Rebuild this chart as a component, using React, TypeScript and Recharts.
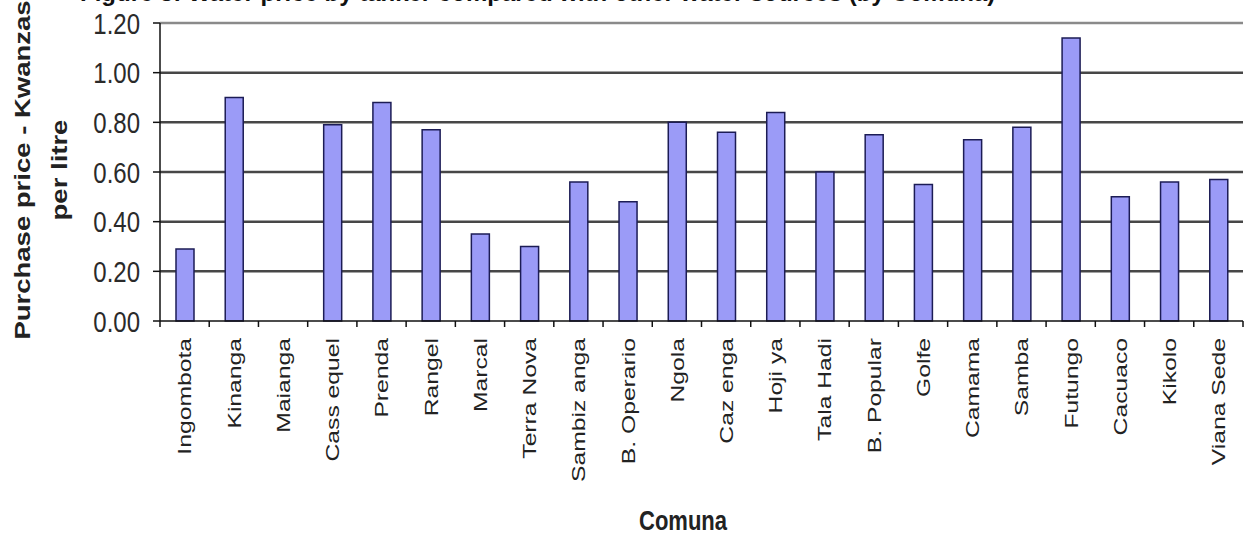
import { Bar, BarChart, CartesianGrid, ReferenceLine, XAxis, YAxis } from 'recharts'

const comunas = [
  'Ingombota', 'Kinanga', 'Maianga', 'Cass equel', 'Prenda', 'Rangel', 'Marcal', 'Terra Nova',
  'Sambiz anga', 'B. Operario', 'Ngola', 'Caz enga', 'Hoji ya', 'Tala Hadi', 'B. Popular', 'Golfe',
  'Camama', 'Samba', 'Futungo', 'Cacuaco', 'Kikolo', 'Viana Sede',
]
const prices = [
  0.29, 0.9, 0, 0.79, 0.88, 0.77, 0.35, 0.3, 0.56, 0.48, 0.8, 0.76, 0.84, 0.6, 0.75, 0.55, 0.73,
  0.78, 1.14, 0.5, 0.56, 0.57,
]
const yTicks = [0, 0.2, 0.4, 0.6, 0.8, 1.0, 1.2]

const W = 1248
const H = 535
const plotLeft = 160
const plotRight = 1243
const band = (plotRight - plotLeft) / comunas.length
const font = '"Liberation Sans", Arial, sans-serif'

const data = comunas.map((name, i) => ({ name, price: prices[i] }))

function YTick({ x, y, payload }: any) {
  return (
    <text
      transform={`translate(${x},${y}) scale(1,1.25)`}
      textAnchor="end"
      dy="0.36em"
      fontSize={24}
      fontFamily={font}
      fill="#2a2a2a"
    >
      {payload.value.toFixed(2)}
    </text>
  )
}

function XTick({ x, y, payload, index }: any) {
  const last = index === comunas.length - 1
  return (
    <g>
      <line x1={x - band / 2} x2={x - band / 2} y1={y - 8} y2={y - 2} stroke="#111" strokeWidth={1.5} />
      {last && <line x1={x + band / 2} x2={x + band / 2} y1={y - 8} y2={y - 2} stroke="#111" strokeWidth={1.5} />}
      <text
        transform={`translate(${x},${y + 9}) rotate(-90) scale(1.3,1)`}
        textAnchor="end"
        dy="0.36em"
        fontSize={19}
        fontFamily={font}
        fill="#222"
      >
        {payload.value}
      </text>
    </g>
  )
}

export default function App() {
  return (
    <div style={{ position: 'absolute', left: 0, top: 0, width: W, height: H, background: '#fff' }}>
      <BarChart
        width={W}
        height={H}
        data={data}
        margin={{ top: 23, right: W - plotRight, left: 0, bottom: 0 }}
        barCategoryGap={0}
      >
        <CartesianGrid
          vertical={false}
          horizontalValues={[0.2, 0.4, 0.6, 0.8, 1.0]}
          stroke="#474747"
          strokeWidth={2.5}
        />
        <ReferenceLine y={1.2} stroke="#8a8a8a" strokeWidth={2.5} />
        <XAxis
          dataKey="name"
          interval={0}
          height={H - 321}
          tickLine={false}
          axisLine={{ stroke: '#111', strokeWidth: 1.5 }}
          tick={<XTick />}
        />
        <YAxis
          width={plotLeft}
          domain={[0, 1.2]}
          ticks={yTicks}
          interval={0}
          tickSize={7}
          tickMargin={13}
          tickLine={{ stroke: '#111', strokeWidth: 1.5 }}
          axisLine={{ stroke: '#111', strokeWidth: 1.5 }}
          tick={<YTick />}
        />
        <Bar
          dataKey="price"
          barSize={18}
          fill="#9b9bf7"
          stroke="#1c1c55"
          strokeWidth={1.5}
          isAnimationActive={false}
        />
      </BarChart>
      <svg width={W} height={H} style={{ position: 'absolute', left: 0, top: 0, pointerEvents: 'none' }}>
        <text x={80} y={1} fontSize={24} fontWeight="bold" fontFamily={font} fill="#111">
          Figure 5: Water price by tanker compared with other water sources (by Comuna)
        </text>
        <g transform="translate(30,170) rotate(-90) scale(1.25,1)" fontFamily={font} fontWeight="bold" fill="#222">
          <text x={0} y={0} textAnchor="middle" fontSize={22}>
            Purchase price - Kwanzas
          </text>
          <text x={0} y={37} textAnchor="middle" fontSize={22}>
            per litre
          </text>
        </g>
        <text
          transform="translate(683,530) scale(1,1.25)"
          textAnchor="middle"
          fontSize={22}
          fontWeight="bold"
          fontFamily={font}
          fill="#222"
        >
          Comuna
        </text>
      </svg>
    </div>
  )
}
